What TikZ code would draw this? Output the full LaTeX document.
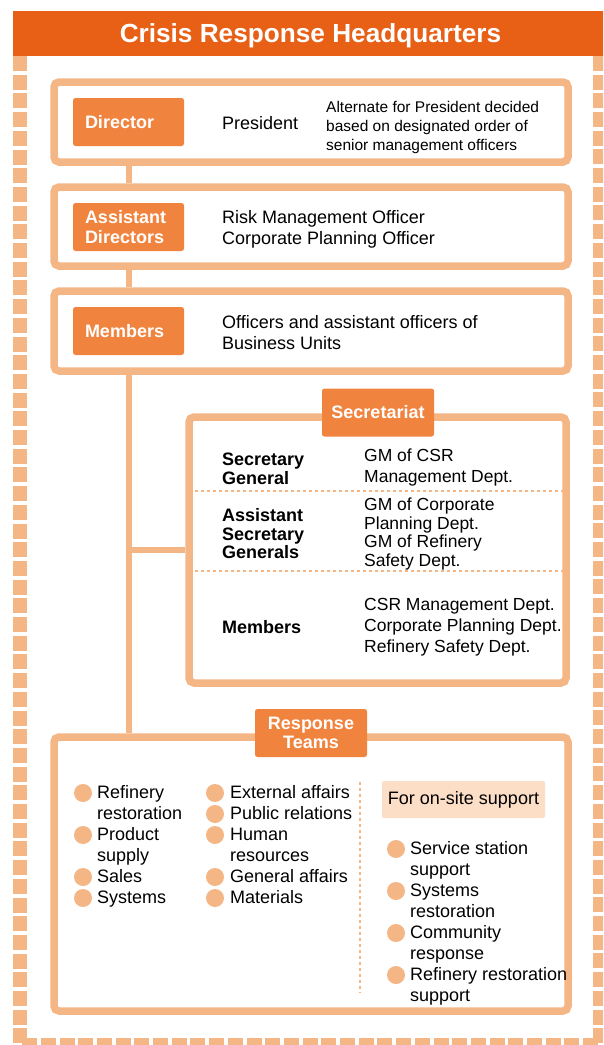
\documentclass[tikz,border=0pt]{standalone}
\usepackage{fontspec}
\setmainfont{Liberation Sans}

\definecolor{hqorange}{RGB}{232,96,22}
\definecolor{roleorange}{RGB}{240,132,62}
\definecolor{paleorange}{RGB}{245,182,134}
\definecolor{sandorange}{RGB}{252,221,198}

\tikzset{
  frame/.style={draw=paleorange, line width=14pt, dash pattern=on 15pt off 3.7pt},
  groupbox/.style={draw=paleorange, fill=white, line width=7.5pt, rounded corners=5pt, inner sep=0pt},
  rolebox/.style={fill=roleorange, rounded corners=2.5pt, text=white, font=\bfseries\fontsize{18}{20}\selectfont,
    minimum height=48pt, inner xsep=12pt, text width=87pt, align=left},
  headbox/.style={fill=roleorange, rounded corners=2.5pt, text=white, font=\bfseries\fontsize{18}{19.5}\selectfont,
    minimum width=112pt, minimum height=48pt, inner sep=0pt, align=center},
  body/.style={anchor=west, inner sep=0pt, align=left, font=\fontsize{18}{21}\selectfont},
  item/.style={anchor=mid west, inner sep=0pt, font=\fontsize{18}{21}\selectfont},
  dot/.style={circle, fill=paleorange, minimum size=18pt, inner sep=0pt},
  link/.style={draw=paleorange, line width=6pt},
  divider/.style={draw=paleorange, line width=1.5pt, dash pattern=on 3pt off 3pt}
}

\begin{document}
\begin{tikzpicture}[x=1pt,y=-1pt]
        \useasboundingbox (0,0) rectangle (603,1045);
        \clip (0,0) rectangle (603,1045);

        \draw[frame] (20,56) -- (20,1045) -- (600,1045) -- (600,56);
        \node[fill=hqorange, minimum width=593pt, minimum height=45pt, inner sep=0pt] (hq) at (309.5,33.5) {};
        \node[text=white, font=\bfseries\fontsize{26.2}{30}\selectfont, inner sep=0pt] (hqtitle) at (310.5,35.5)
          {Crisis Response Headquarters};

        \node[groupbox, minimum width=514pt, minimum height=80pt] (dirbox) at (311,122) {};
        \node[rolebox] (dirrole) at (128.5,122) {Director};
        \node[item] (dirname) at (222,127) {President};
        \node[body, font=\fontsize{15.5}{19}\selectfont] (dirnote) at (326,127.5)
          {Alternate for President decided\\based on designated order of\\senior management officers};

        \node[groupbox, minimum width=514pt, minimum height=79pt] (asstbox) at (311,226.5) {};
        \node[rolebox] (asstrole) at (128.5,227) {Assistant\\Directors};
        \node[body] (asstname) at (222,229.5) {Risk Management Officer\\Corporate Planning Officer};

        \node[groupbox, minimum width=514pt, minimum height=80pt] (membox) at (311,331) {};
        \node[rolebox] (memrole) at (128.5,331) {Members};
        \node[body] (memname) at (222,332.5) {Officers and assistant officers of\\Business Units};

        \node[groupbox, minimum width=514pt, minimum height=274pt] (teambox) at (311,874) {};

        \draw[link] (dirbox.south -| dirrole) -- (asstbox.north -| dirrole);
        \draw[link] (asstbox.south -| asstrole) -- (membox.north -| asstrole);
        \draw[link] (membox.south -| memrole) -- (teambox.north -| memrole);

        % secretariat
        \node[groupbox, minimum width=377pt, minimum height=266pt] (secbox) at (377.5,550) {};
        \draw[link] (secbox.west) -- (secbox.west -| memrole);
        \node[headbox] (sechead) at (378,412.5) {Secretariat};
        \draw[divider] (195,491) -- (563,491);
        \draw[divider] (195,571) -- (563,571);
        \node[body, font=\bfseries\fontsize{18}{18.5}\selectfont] (secgen) at (222,469) {Secretary\\General};
        \node[body, font=\bfseries\fontsize{18}{18.5}\selectfont] (asstgen) at (222,534) {Assistant\\Secretary\\Generals};
        \node[body, font=\bfseries\fontsize{18}{18.5}\selectfont] (secmem) at (222,627) {Members};
        \node[body, font=\fontsize{17.5}{21}\selectfont] (secgenname) at (364,467) {GM of CSR\\Management Dept.};
        \node[body, font=\fontsize{17.5}{18.5}\selectfont] (asstgenname) at (364,534)
          {GM of Corporate\\Planning Dept.\\GM of Refinery\\Safety Dept.};
        \node[body, font=\fontsize{17.5}{21}\selectfont] (secmemname) at (364,627)
          {CSR Management Dept.\\Corporate Planning Dept.\\Refinery Safety Dept.};

        % response teams
        \node[headbox] (teamhead) at (311,733) {Response\\Teams};
        \draw[divider] (360,782) -- (360,993);
        \node[fill=sandorange, rounded corners=2pt, minimum width=163pt, minimum height=37pt, inner sep=0pt,
          font=\fontsize{18}{21}\selectfont] (onsite) at (463.5,799.5) {For on-site support};

        \foreach \y/\first/\second [count=\i] in {793/Refinery/restoration, 835/Product/supply, 877/Sales/, 898/Systems/} {
          \node[dot] (plantdot\i) at (83,\y) {};
          \node[item] (plant\i) at (97,\y+3) {\first};
          \node[item] (plantmore\i) at (97,\y+24) {\second};
        }
        \foreach \y/\first/\second [count=\i] in {793/External affairs/, 814/Public relations/, 835/Human/resources,
          877/General affairs/, 898/Materials/} {
          \node[dot] (staffdot\i) at (215,\y) {};
          \node[item] (staff\i) at (230,\y+3) {\first};
          \node[item] (staffmore\i) at (230,\y+24) {\second};
        }
        \foreach \y/\first/\second [count=\i] in {849/Service station/support, 891/Systems/restoration,
          933/Community/response, 975/Refinery restoration/support} {
          \node[dot] (sitedot\i) at (396,\y) {};
          \node[item] (site\i) at (410,\y+3) {\first};
          \node[item] (sitemore\i) at (410,\y+24) {\second};
        }
\end{tikzpicture}
\end{document}
